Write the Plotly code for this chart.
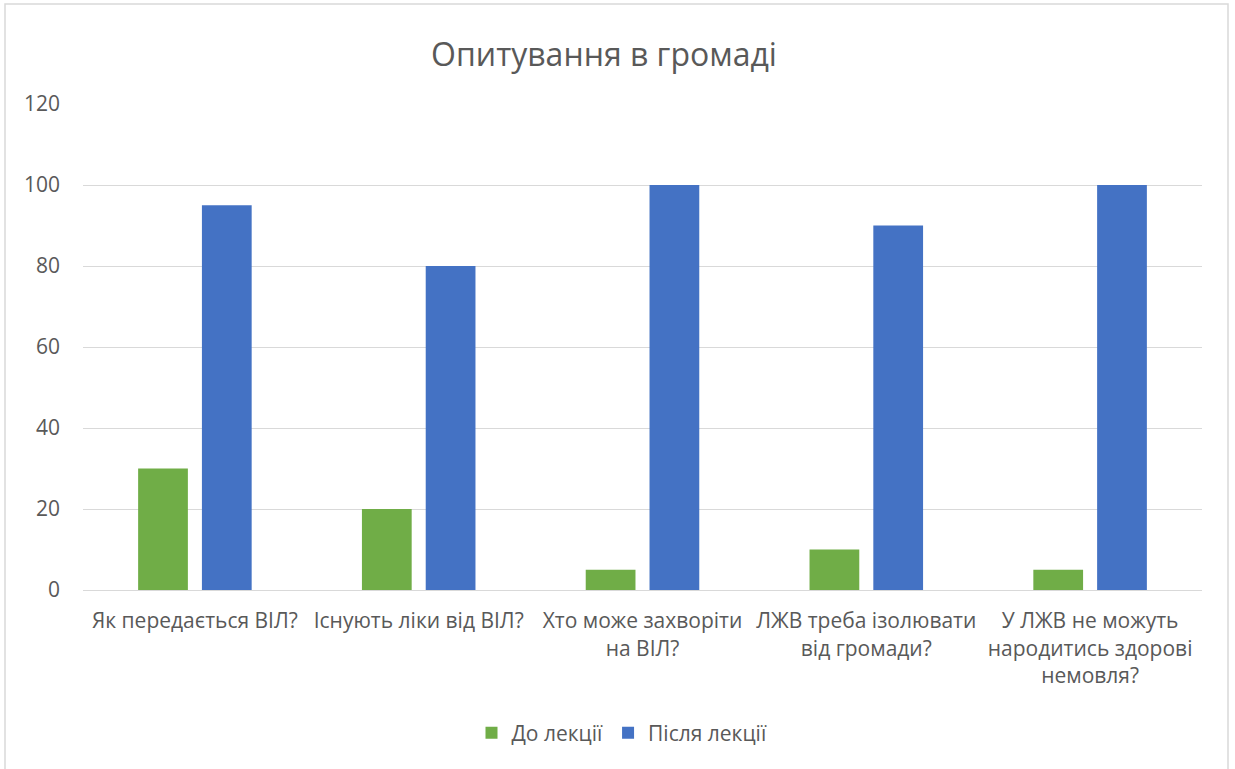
import plotly.graph_objects as go

# Survey questions (category axis)
categories = [
    "Як передається ВІЛ?",
    "Існують ліки від ВІЛ?",
    "Хто може захворіти<br>на ВІЛ?",
    "ЛЖВ треба ізолювати<br>від громади?",
    "У ЛЖВ не можуть<br>народитись здорові<br>немовля?",
]
before_lecture = [30, 20, 5, 10, 5]
after_lecture = [95, 80, 100, 90, 100]
y_ticks = [0, 20, 40, 60, 80, 100, 120]

W, H = 1235, 769
ML, MR, MT, MB = 83, 33, 104, 179
pw = W - ML - MR
ph = H - MT - MB

font_family = "Open Sans, Noto Sans, sans-serif"
text_color = "#595959"

fig = go.Figure()
fig.add_trace(go.Bar(name="До лекції", x=categories, y=before_lecture,
                     marker=dict(color="#70AD47", line=dict(width=0))))
fig.add_trace(go.Bar(name="Після лекції", x=categories, y=after_lecture,
                     marker=dict(color="#4472C4", line=dict(width=0))))

# outer chart-area frame, expressed in paper coordinates
def px_x(v):
    return (v - ML) / pw

def px_y(v):
    return (H - MB - v) / ph

fig.add_shape(type="rect", xref="paper", yref="paper",
              x0=px_x(5), x1=px_x(1228), y0=px_y(4), y1=px_y(800),
              line=dict(color="#D9D9D9", width=1.5), fillcolor="rgba(0,0,0,0)",
              layer="below")

fig.update_layout(
    width=W, height=H,
    margin=dict(l=ML, r=MR, t=MT, b=MB),
    paper_bgcolor="white", plot_bgcolor="white",
    barmode="group", bargap=0.43, bargroupgap=0.22,
    font=dict(family=font_family, color=text_color, size=21),
    title=dict(text="Опитування в громаді", xref="container", x=604 / W,
               xanchor="center", y=1 - 55 / H, yanchor="middle",
               font=dict(size=32, color=text_color, family=font_family)),
    legend=dict(orientation="h", x=px_x(622), xanchor="center",
                y=px_y(733), yanchor="middle",
                font=dict(size=21, color=text_color),
                itemwidth=30, traceorder="normal"),
    showlegend=True,
)
fig.update_yaxes(range=[0, 120], tickvals=y_ticks, showgrid=True,
                 gridcolor="#D9D9D9", gridwidth=1, zeroline=False,
                 showline=False, ticks="", ticklabelstandoff=22,
                 tickfont=dict(size=21, color=text_color))
fig.update_xaxes(showline=True, linecolor="#D9D9D9", linewidth=1,
                 ticks="", ticklabelstandoff=12,
                 tickfont=dict(size=21, color=text_color), tickangle=0)

fig.write_html("out.html")
